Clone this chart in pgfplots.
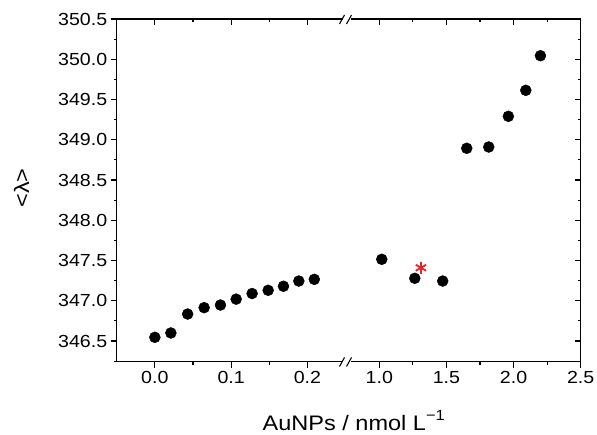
\documentclass[border=0pt]{standalone}
\usepackage{fontspec}
\setmainfont[FakeStretch=1.12]{Liberation Sans}
\usepackage{pgfplots}
\usepackage{pgfplotstable}
\pgfplotsset{compat=1.18}
\definecolor{starred}{RGB}{232,32,40}

\pgfplotstableread{
x y
0.000 346.546
0.021 346.600
0.043 346.835
0.0646 346.914
0.086 346.947
0.1066 347.020
0.1275 347.090
0.1485 347.130
0.1686 347.180
0.1887 347.245
0.209 347.266
}\leftdata

\pgfplotstableread{
x y
1.018 347.515
1.264 347.279
1.472 347.245
1.651 348.894
1.815 348.910
1.961 349.291
2.091 349.614
2.200 350.044
}\rightdata

\pgfplotstableread{
x y
1.31 347.41
}\stardata

\pgfplotsset{
  brk/.style={
    scale only axis, anchor=south west,
    height=342.7pt,
    ymin=346.243, ymax=350.5,
    axis line style={draw=none},
    tick style={black, line width=1.1pt},
    major tick length=6pt, minor tick length=3pt,
    ticklabel style={font=\fontsize{17.5}{20}\selectfont},
    /pgf/number format/.cd, fixed, fixed zerofill, precision=1, 1000 sep={}, assume math mode=true,
  },
  ytk/.style={ytick={346.5,347,347.5,348,348.5,349,349.5,350,350.5},
    minor ytick={346.25,346.75,347.25,347.75,348.25,348.75,349.25,349.75,350.25}},
}

\begin{document}
\begin{tikzpicture}[x=1pt,y=1pt]
\useasboundingbox (0,0) rectangle (597,434);
% left panel
\begin{axis}[brk, ytk, at={(116.7pt,72.3pt)}, width=230.4pt,
  xmin=-0.05, xmax=0.252, xtick={0,0.1,0.2}, minor xtick={0.05,0.15},
  xtick pos=left, ytick pos=left, tick align=outside]
  \addplot[only marks, mark=*, mark size=5.5pt, black] table[x=x,y=y]{\leftdata};
\end{axis}
\begin{axis}[brk, at={(116.7pt,72.3pt)}, width=230.4pt,
  xmin=-0.05, xmax=0.252, xtick={0,0.1,0.2}, minor xtick={0.05,0.15},
  xtick pos=right, tick align=inside, ytick=\empty, xticklabels={}]
  \addplot[draw=none] coordinates {(0,347)};
\end{axis}
% right panel
\begin{axis}[brk, at={(347pt,72.3pt)}, width=233.7pt,
  xmin=0.759, xmax=2.5, xtick={1,1.5,2,2.5}, minor xtick={1.25,1.75,2.25},
  xtick pos=left, tick align=outside, ytick=\empty, clip=false]
  \addplot[only marks, mark=*, mark size=5.5pt, black] table[x=x,y=y]{\rightdata};
  \addplot[only marks, mark=asterisk, mark size=6pt, starred, line width=1.8pt] table[x=x,y=y]{\stardata};
\end{axis}
\begin{axis}[brk, ytk, at={(347pt,72.3pt)}, width=233.7pt,
  xmin=0.759, xmax=2.5, xtick={1,1.5,2,2.5}, minor xtick={1.25,1.75,2.25},
  xtick pos=right, ytick pos=right, tick align=inside, xticklabels={}, yticklabels={}]
  \addplot[draw=none] coordinates {(1,347)};
\end{axis}
% frame with break
\begin{scope}[line width=1.3pt, line cap=rect]
\draw (116.7,72.3) -- (116.7,415);
\draw (580.7,72.3) -- (580.7,415);
\draw (116.7,415) -- (342,415);
\draw (352,415) -- (580.7,415);
\draw (116.7,72.3) -- (342,72.3);
\draw (352,72.3) -- (580.7,72.3);
\end{scope}
\begin{scope}[line width=1.1pt]
\draw (339.5,410) -- (344.5,419);
\draw (346.5,410) -- (351.5,419);
\draw (339.5,67.5) -- (344.5,76.5);
\draw (346.5,67.5) -- (351.5,76.5);
\end{scope}
\node[anchor=base, font=\fontsize{21}{25}\selectfont, inner sep=0pt] at (354,4) {AuNPs / nmol L\raisebox{1.5pt}{\textsuperscript{−1}}};
\node[rotate=90, font=\fontsize{21}{25}\selectfont, inner sep=0pt] at (21.5,246) {<λ>};
\end{tikzpicture}
\end{document}
